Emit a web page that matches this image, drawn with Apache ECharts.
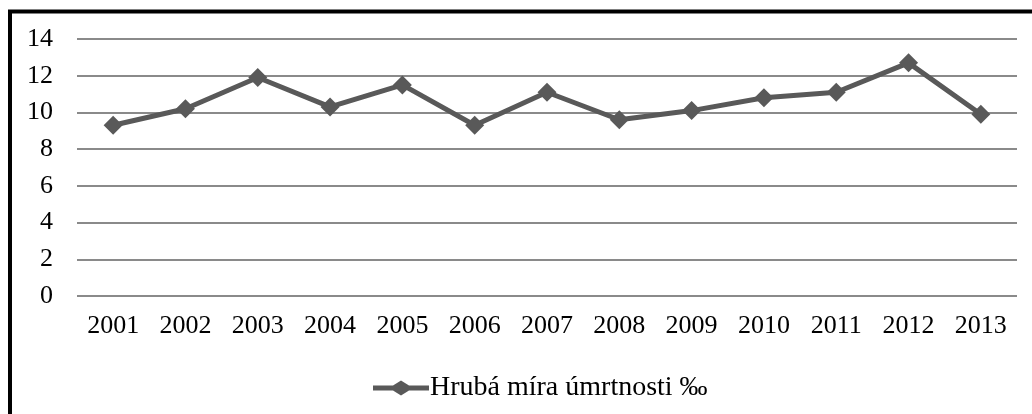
<!DOCTYPE html>
<html>
<head>
<meta charset="utf-8">
<script src="https://cdn.jsdelivr.net/npm/echarts@6/dist/echarts.min.js"></script>
<style>
  html, body { margin: 0; padding: 0; background: #fff; }
  #chart { width: 1032px; height: 414px; }
</style>
</head>
<body>
<div id="chart"></div>
<script>
// data
var years = ['2001', '2002', '2003', '2004', '2005', '2006', '2007', '2008', '2009', '2010', '2011', '2012', '2013'];
var mortality = [9.3, 10.2, 11.9, 10.3, 11.5, 9.3, 11.1, 9.6, 10.1, 10.8, 11.1, 12.7, 9.9];
var seriesName = 'Hrubá míra úmrtnosti ‰';

var lineColor = '#595959';
var fontFamily = '"Liberation Serif", "Times New Roman", serif';

var myChart = echarts.init(document.getElementById('chart'));

var option = {
    animation: false,
    backgroundColor: '#fff',
    textStyle: { fontFamily: fontFamily },
    // black frame round the chart (right and bottom edges fall outside)
    graphic: [{
        type: 'rect',
        shape: { x: 10, y: 11.5, width: 1100, height: 500 },
        style: { fill: 'none', stroke: '#000', lineWidth: 4 },
        silent: true
    }],
    grid: {
        left: 77,
        right: 15,
        top: 39,
        bottom: 118,
        containLabel: false
    },
    legend: {
        bottom: 7,
        left: 368,
        itemWidth: 56,
        itemHeight: 15,
        itemGap: 0,
        textStyle: { fontSize: 28, color: '#000', fontFamily: fontFamily, padding: [0, 0, 0, -4] },
        data: [{ name: seriesName, icon: 'path://M0,5 L20,5 L28,0 L36,5 L56,5 L56,10 L36,10 L28,15 L20,10 L0,10 Z' }]
    },
    xAxis: {
        type: 'category',
        data: years,
        boundaryGap: true,
        axisLine: { show: false },
        axisTick: { show: false },
        axisLabel: { color: '#000', fontSize: 26, margin: 17, fontFamily: fontFamily }
    },
    yAxis: {
        type: 'value',
        min: 0,
        max: 14,
        interval: 2,
        axisLine: { show: false },
        axisTick: { show: false },
        axisLabel: { color: '#000', fontSize: 26, margin: 24, fontFamily: fontFamily },
        splitLine: { lineStyle: { color: '#8a8a8a', width: 2 } }
    },
    series: [{
        name: seriesName,
        type: 'line',
        data: mortality,
        symbol: 'diamond',
        symbolSize: 19,
        showAllSymbol: true,
        lineStyle: { color: lineColor, width: 5 },
        itemStyle: { color: lineColor }
    }]
};

myChart.setOption(option);
</script>
</body>
</html>
